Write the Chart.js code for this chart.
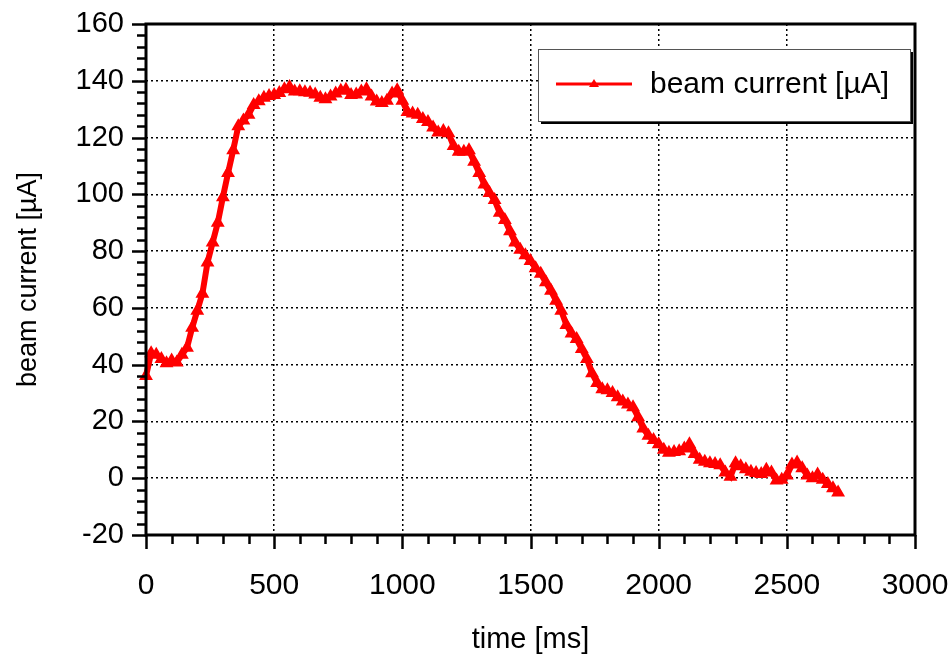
<!DOCTYPE html>
<html>
<head>
<meta charset="utf-8">
<script src="https://cdn.jsdelivr.net/npm/chart.js@4.4.1/dist/chart.umd.min.js"></script>
<style>
  html, body { margin: 0; padding: 0; background: #fff; }
  #wrap { width: 949px; height: 658px; }
</style>
</head>
<body>
<div id="wrap"><canvas id="beamChart" width="949" height="658"></canvas></div>
<script>
// time axis [ms]
const timeMs = [
    0, 20, 40, 60, 80, 100, 120, 140, 160, 180,
    200, 220, 240, 260, 280, 300, 320, 340, 360, 380,
    400, 420, 440, 460, 480, 500, 520, 540, 560, 580,
    600, 620, 640, 660, 680, 700, 720, 740, 760, 780,
    800, 820, 840, 860, 880, 900, 920, 940, 960, 980,
    1000, 1020, 1040, 1060, 1080, 1100, 1120, 1140, 1160, 1180,
    1200, 1220, 1240, 1260, 1280, 1300, 1320, 1340, 1360, 1380,
    1400, 1420, 1440, 1460, 1480, 1500, 1520, 1540, 1560, 1580,
    1600, 1620, 1640, 1660, 1680, 1700, 1720, 1740, 1760, 1780,
    1800, 1820, 1840, 1860, 1880, 1900, 1920, 1940, 1960, 1980,
    2000, 2020, 2040, 2060, 2080, 2100, 2120, 2140, 2160, 2180,
    2200, 2220, 2240, 2260, 2280, 2300, 2320, 2340, 2360, 2380,
    2400, 2420, 2440, 2460, 2480, 2500, 2520, 2540, 2560, 2580,
    2600, 2620, 2640, 2660, 2680, 2700
];

// beam current [µA]
const beamCurrent = [
    36, 44, 43.5, 42, 40.5, 41.5, 40.8, 43.5, 46, 53,
    59, 65, 76, 83, 90, 99, 107.5, 115.5, 124, 126,
    128, 131.5, 132.8, 134, 134.6, 135, 135.7, 137, 137.8, 136.2,
    136.3, 136, 135.8, 135.2, 134, 133.5, 134.5, 135.5, 136.5, 136.8,
    135, 135.2, 136.2, 137, 134.5, 132.7, 132.2, 133, 135.5, 136.7,
    133, 129, 128.5, 128, 126.5, 125.5, 123.5, 121.8, 122.3, 121.5,
    117, 115, 115, 115.5, 111.5, 107.5, 103.5, 100.5, 98, 93.5,
    91, 87, 83, 80.5, 78.5, 76.5, 74, 72, 69, 66,
    62.5, 59, 54, 51, 49, 45.5, 42, 37, 33.5, 31.3,
    31, 30, 28.5, 27, 26, 25, 21.5, 17.5, 15, 13.5,
    12, 10, 9, 9.2, 9.5, 10.5, 12, 8.5, 6.5, 5.8,
    5.3, 5, 4.6, 2, 0.5, 5.3, 4.2, 3.2, 2.3, 1.8,
    1.5, 3, 2, -0.8, -0.5, 1, 4.8, 5.5, 3.5, 1,
    0, 1.3, -0.5, -2, -3.5, -5
];

const seriesLabel = 'beam current [µA]';
const xTickValues = [0, 500, 1000, 1500, 2000, 2500, 3000];
const yTickValues = [-20, 0, 20, 40, 60, 80, 100, 120, 140, 160];

const FONT = '"Liberation Sans", Arial, sans-serif';
const RED = '#ff0000';

// no extra room for overhanging end labels, layout padding places the plot
function noOverhang(scale) {
    scale.paddingTop = 0;
    scale.paddingBottom = 0;
    scale.paddingLeft = 0;
    scale.paddingRight = 0;
}

// frame, major/minor tick marks and the inner legend box
const framePlugin = {
    id: 'frame',
    afterDraw(chart) {
        const ctx = chart.ctx;
        const area = chart.chartArea;
        const xs = chart.scales.x;
        const ys = chart.scales.y;
        ctx.save();
        ctx.strokeStyle = '#000';

        // tick marks, pointing outward
        ctx.lineWidth = 2.5;
        ctx.beginPath();
        for (let v = -20; v <= 160; v += 4) {
            const y = Math.round(ys.getPixelForValue(v)) + 0.5;
            const len = (v % 20 === 0) ? 14 : 9;
            ctx.moveTo(area.left, y);
            ctx.lineTo(area.left - len, y);
        }
        for (let v = 0; v <= 3000; v += 100) {
            const x = Math.round(xs.getPixelForValue(v)) + 0.5;
            const len = (v % 500 === 0) ? 14 : 9;
            ctx.moveTo(x, area.bottom);
            ctx.lineTo(x, area.bottom + len);
        }
        ctx.stroke();

        // frame
        ctx.lineWidth = 3;
        ctx.strokeRect(area.left, area.top, area.right - area.left, area.bottom - area.top);

        // legend
        const bx = 538, by = 49, bw = 372, bh = 72;
        ctx.fillStyle = '#000';
        ctx.fillRect(bx + 3, by + 3, bw, bh);
        ctx.fillStyle = '#fff';
        ctx.fillRect(bx, by, bw, bh);
        ctx.lineWidth = 1;
        ctx.strokeStyle = '#555';
        ctx.strokeRect(bx + 0.5, by + 0.5, bw, bh);

        const ly = 84;
        ctx.strokeStyle = RED;
        ctx.lineWidth = 3;
        ctx.beginPath();
        ctx.moveTo(556, ly);
        ctx.lineTo(632, ly);
        ctx.stroke();
        ctx.fillStyle = RED;
        ctx.beginPath();
        ctx.moveTo(594, ly - 5);
        ctx.lineTo(599, ly + 3);
        ctx.lineTo(589, ly + 3);
        ctx.closePath();
        ctx.fill();

        ctx.fillStyle = '#000';
        ctx.font = '30px ' + FONT;
        ctx.textBaseline = 'middle';
        ctx.textAlign = 'left';
        ctx.fillText(chart.data.datasets[0].label, 650, ly + 1);
        ctx.restore();
    }
};

const ctx = document.getElementById('beamChart');
new Chart(ctx, {
    type: 'line',
    data: {
        datasets: [{
            label: seriesLabel,
            data: timeMs.map((t, i) => ({ x: t, y: beamCurrent[i] })),
            borderColor: RED,
            backgroundColor: RED,
            borderWidth: 6,
            pointStyle: 'triangle',
            pointRadius: 6,
            pointBorderWidth: 2,
            pointBackgroundColor: RED,
            pointBorderColor: RED,
            tension: 0,
            clip: false
        }]
    },
    options: {
        responsive: false,
        animation: false,
        layout: { padding: { top: 24, right: 34, left: 0, bottom: 0 } },
        plugins: {
            legend: { display: false },
            tooltip: { enabled: false }
        },
        scales: {
            x: {
                type: 'linear',
                min: 0,
                max: 3000,
                afterBuildTicks: (scale) => { scale.ticks = xTickValues.map(v => ({ value: v })); },
                afterFit: (scale) => { scale.height = 123; noOverhang(scale); },
                grid: {
                    color: '#000',
                    lineWidth: 1.5,
                    drawTicks: false
                },
                border: { display: false, dash: [2, 3] },
                ticks: {
                    color: '#000',
                    font: { family: FONT, size: 30 },
                    padding: 33,
                    maxRotation: 0,
                    callback: (v) => String(v)
                },
                title: {
                    display: true,
                    text: 'time [ms]',
                    color: '#000',
                    font: { family: FONT, size: 29 },
                    padding: { top: 0, bottom: 1 }
                }
            },
            y: {
                type: 'linear',
                min: -20,
                max: 160,
                afterBuildTicks: (scale) => { scale.ticks = yTickValues.map(v => ({ value: v })); },
                afterFit: (scale) => { scale.width = 146; noOverhang(scale); },
                grid: {
                    color: '#000',
                    lineWidth: 1.5,
                    drawTicks: false
                },
                border: { display: false, dash: [2, 3] },
                ticks: {
                    color: '#000',
                    font: { family: FONT, size: 29 },
                    padding: 22,
                    callback: (v) => String(v)
                },
                title: {
                    display: true,
                    text: 'beam current [µA]',
                    color: '#000',
                    font: { family: FONT, size: 27 },
                    padding: { top: 12, bottom: 0 }
                }
            }
        }
    },
    plugins: [framePlugin]
});
</script>
</body>
</html>
